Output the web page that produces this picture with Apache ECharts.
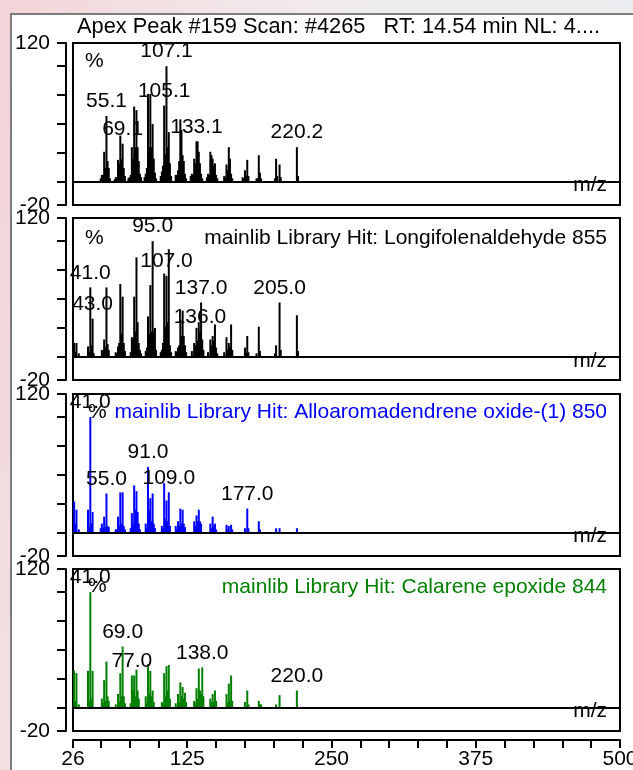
<!DOCTYPE html>
<html><head><meta charset="utf-8">
<script src="https://cdn.jsdelivr.net/npm/echarts@6/dist/echarts.min.js"></script>
<style>
html,body{margin:0;padding:0;width:633px;height:770px;overflow:hidden;}
body{background:linear-gradient(100deg,#f2d3d8 0%,#f3e4e6 25%,#eeeeee 55%,#e6eaee 100%);position:relative;}
#frame{position:absolute;left:10px;top:13px;width:700px;height:800px;background:#fff;border-left:2px solid #7c7c7c;border-top:2px solid #7c7c7c;}
#chart{position:absolute;left:0;top:0;width:633px;height:770px;}
</style></head><body><div id="frame"></div><div id="chart"></div>
<script>
// ---- data ----
const headerText = 'Apex Peak #159 Scan: #4265   RT: 14.54 min NL: 4....';
const panelTitles = ['', 'mainlib Library Hit: Longifolenaldehyde 855', 'mainlib Library Hit: Alloaromadendrene oxide-(1) 850', 'mainlib Library Hit: Calarene epoxide 844'];
const panelColors = ['#000000', '#000000', '#0000ff', '#008000'];

// [m/z, relative intensity %]
const samplePeaks = [[50,3],[51,6],[52,6],[53,26],[54,12],[55,57],[56,18],[57,12],[58,3],
  [62,2],[63,4],[64,4],[65,19],[66,16],[67,40],[68,20],[69,33],[70,12],[71,5],
  [74,3],[75,4],[76,6],[77,30],[78,20],[79,65],[80,30],[81,62],[82,30],[83,18],[84,7],[85,4],
  [88,4],[89,7],[90,12],[91,76],[92,30],[93,76],[94,30],[95,50],[96,20],[97,8],[98,3],
  [102,5],[103,9],[104,14],[105,66],[106,24],[107,100],[108,30],[109,43],[110,16],[111,5],
  [115,6],[116,6],[117,10],[118,18],[119,54],[120,45],[121,23],[122,18],[123,7],[124,3],
  [128,5],[129,7],[130,6],[131,20],[132,16],[133,35],[134,35],[135,26],[136,16],[137,7],[138,3],
  [142,4],[143,7],[144,6],[145,26],[146,23],[147,20],[148,14],[149,16],[150,6],[151,3],
  [157,5],[158,4],[159,15],[160,10],[161,30],[162,20],[163,7],[164,3],
  [173,4],[174,3],[175,10],[176,5],[177,19],[178,5],
  [185,3],[186,3],[187,23],[188,8],[189,3],
  [201,3],[202,20],[203,5],[205,15],[206,4],
  [220,30],[221,5]];
const sampleLabels = [[55,'55.1'],[69,'69.1'],[105,'105.1'],[107,'107.1'],[133,'133.1'],[220,'220.2']];

const hit1Peaks = [[27,12],[28,4],[29,12],[31,3],
  [39,9],[40,4],[41,60],[42,10],[43,33],[44,3],
  [51,6],[52,5],[53,15],[54,8],[55,60],[56,11],[57,6],
  [63,4],[64,3],[65,9],[66,12],[67,63],[68,20],[69,52],[70,12],[71,5],
  [76,4],[77,17],[78,16],[79,52],[80,22],[81,86],[82,30],[83,12],[84,6],[85,3],
  [89,5],[90,8],[91,35],[92,20],[93,62],[94,22],[95,100],[96,22],[97,25],[98,6],
  [102,4],[103,6],[104,12],[105,72],[106,26],[107,70],[108,30],[109,93],[110,10],[111,4],
  [115,5],[116,4],[117,8],[118,10],[119,32],[120,18],[121,40],[122,18],[123,10],[124,4],
  [129,5],[131,12],[132,10],[133,25],[134,14],[135,30],[136,22],[137,47],[138,15],[139,6],
  [143,4],[145,15],[146,10],[147,18],[148,14],[149,28],[150,8],[151,3],
  [157,4],[159,17],[160,6],[161,12],[162,8],[163,28],[164,6],
  [175,8],[176,3],[177,18],[178,4],
  [185,3],[187,26],[188,5],
  [201,3],[202,10],[205,47],[206,6],
  [220,36],[221,5]];
const hit1Labels = [[41,'41.0'],[43,'43.0'],[95,'95.0'],[107,'107.0'],[137,'137.0'],[136,'136.0'],[205,'205.0']];

const hit2Peaks = [[27,27],[28,8],[29,20],[31,3],
  [39,20],[40,5],[41,100],[42,8],[43,18],
  [50,4],[51,8],[52,4],[53,14],[54,5],[55,34],[56,6],[57,5],
  [63,3],[64,3],[65,14],[66,6],[67,35],[68,8],[69,35],[70,6],[71,3],
  [76,4],[77,17],[78,8],[79,41],[80,20],[81,36],[82,18],[83,8],[84,3],
  [89,8],[90,4],[91,57],[92,20],[93,30],[94,10],[95,34],[96,8],[97,4],
  [103,6],[104,4],[105,43],[106,12],[107,28],[108,10],[109,35],[110,6],
  [115,6],[116,3],[117,10],[118,6],[119,21],[120,8],[121,20],[122,8],[123,5],
  [131,10],[132,6],[133,15],[134,10],[135,20],[136,10],[137,8],
  [145,8],[146,4],[147,14],[148,6],[149,8],[150,3],
  [159,7],[160,3],[161,6],[163,7],[164,3],
  [175,4],[177,21],[178,4],
  [187,10],[188,3],
  [202,4],[205,4],
  [220,4]];
const hit2Labels = [[41,'41.0'],[55,'55.0'],[91,'91.0'],[109,'109.0'],[177,'177.0']];

const hit3Peaks = [[27,32],[28,6],[29,30],[31,3],
  [39,32],[40,6],[41,100],[42,8],[43,32],
  [51,8],[52,4],[53,24],[54,6],[55,40],[56,10],[57,6],
  [63,3],[65,12],[66,5],[67,30],[68,10],[69,53],[70,10],[71,4],
  [76,4],[77,28],[78,15],[79,28],[80,10],[81,33],[82,15],[83,8],
  [89,10],[90,4],[91,38],[92,12],[93,32],[94,10],[95,15],[96,5],
  [103,5],[104,4],[105,30],[106,10],[107,36],[108,15],[109,37],[110,8],
  [115,4],[117,12],[118,5],[119,22],[120,10],[121,18],[122,8],[123,13],[124,5],
  [131,6],[132,4],[133,17],[134,8],[135,34],[136,15],[137,12],[138,35],[139,10],
  [145,8],[146,5],[147,12],[148,5],[149,15],[150,6],
  [159,12],[160,5],[161,21],[162,6],[163,28],[164,6],
  [175,5],[177,15],[178,3],
  [187,6],[188,3],[189,3],
  [202,3],[205,11],
  [220,15]];
const hit3Labels = [[41,'41.0'],[69,'69.0'],[77,'77.0'],[138,'138.0'],[220,'220.0']];

const xTickValues = [26,50,75,100,125,150,175,200,225,250,275,300,325,350,375,400,425,450,475,500];
const xLabelValues = [26,125,250,375,500];
const yTickValues = [-20,0,25,50,75,100,120];
const yLabelValues = [-20,120];
const xMin = 26, xMax = 500, yMin = -20, yMax = 120;

// ---- layout ----
const FONT = '"Liberation Sans", Arial, sans-serif';
const FS = 21;
const gridTops = [43, 218, 394, 569];
const gridH = 162;
const titleTops = [0, 227.5, 401.5, 577];
const pctTops = [51, 227.5, 402, 576];
const pctLefts = [85, 85, 88, 88];
const mzTops = [175, 351, 526, 700.5];

const panels = [
  [samplePeaks, sampleLabels],
  [hit1Peaks, hit1Labels],
  [hit2Peaks, hit2Labels],
  [hit3Peaks, hit3Labels]
];

function buildData(peaks, labels) {
  const lm = new Map(labels);
  return peaks.map(p => lm.has(p[0])
    ? { value: [p[0], p[1]], label: { show: true, formatter: lm.get(p[0]) } }
    : [p[0], p[1]]);
}

const txt = (extra) => Object.assign({ fontFamily: FONT, fontSize: FS, fontWeight: 'normal', color: '#000', lineHeight: FS }, extra || {});
const black2 = { color: '#000', width: 2 };

const titles = [{ text: headerText, left: 77, top: 16, padding: 0, textStyle: txt({ fontSize: 21.8, lineHeight: 22 }) }];
for (let i = 0; i < 4; i++) {
  if (panelTitles[i]) titles.push({ text: panelTitles[i], right: 26, top: titleTops[i], padding: 0, textStyle: txt({ color: panelColors[i] }) });
  titles.push({ text: '%', left: pctLefts[i], top: pctTops[i], padding: 0, textStyle: txt() });
  titles.push({ text: 'm/z', right: 26, top: mzTops[i], padding: 0, textStyle: txt() });
}

const option = {
  animation: false,
  backgroundColor: 'transparent',
  textStyle: { fontFamily: FONT },
  title: titles,
  grid: gridTops.map(t => ({ left: 73, right: 13, top: t, height: gridH, show: true, borderColor: '#000', borderWidth: 2, backgroundColor: 'transparent', containLabel: false, outerBoundsMode: 'none' })),
  xAxis: gridTops.map((t, i) => ({
    gridIndex: i, type: 'value', min: xMin, max: xMax, show: i === 3, position: 'bottom', offset: 9,
    axisLine: { show: true, onZero: false, lineStyle: black2 },
    axisTick: { show: true, customValues: xTickValues, length: 8, lineStyle: black2 },
    axisLabel: { customValues: xLabelValues, fontFamily: FONT, fontSize: FS, color: '#000', margin: 9, alignMinLabel: 'center', alignMaxLabel: 'center', hideOverlap: false },
    splitLine: { show: false }
  })),
  yAxis: gridTops.map((t, i) => ({
    gridIndex: i, type: 'value', min: yMin, max: yMax, offset: 7,
    axisLine: { show: true, onZero: false, lineStyle: black2 },
    axisTick: { show: true, customValues: yTickValues, length: 9, lineStyle: black2 },
    axisLabel: { customValues: yLabelValues, fontFamily: FONT, fontSize: FS, color: '#000', margin: 16 },
    splitLine: { show: false }
  })),
  series: panels.map((p, i) => ({
    type: 'bar', xAxisIndex: i, yAxisIndex: i, barWidth: 2,
    itemStyle: { color: panelColors[i] },
    label: { show: false, position: 'top', distance: 4, fontFamily: FONT, fontSize: FS, color: '#000' },
    labelLayout: { hideOverlap: false },
    data: buildData(p[0], p[1]),
    markLine: { silent: true, symbol: ['none', 'none'], label: { show: false }, lineStyle: { color: '#000', width: 2, type: 'solid' }, data: [{ yAxis: 0 }] }
  }))
};

const chart = echarts.init(document.getElementById('chart'), null, { renderer: 'canvas' });
chart.setOption(option);
</script>
</body></html>
